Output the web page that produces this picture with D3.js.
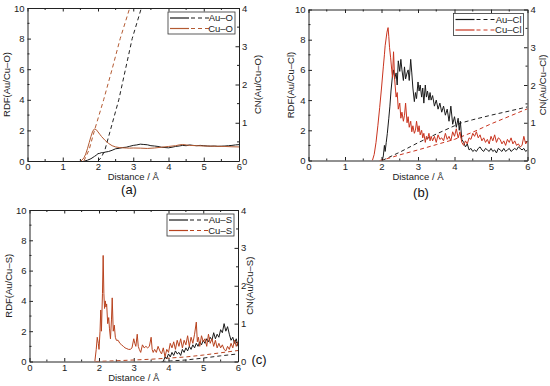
<!DOCTYPE html>
<html>
<head>
<meta charset="utf-8">
<script src="https://cdn.jsdelivr.net/npm/d3@7"></script>
<style>
    body { margin: 0; background: #fff; }
    svg { display: block; font-family: "Liberation Sans", Arial, sans-serif; }
    .tick text { font-size: 9.5px; fill: #222; font-family: "Liberation Sans", Arial, sans-serif; }
    .tick line, .domain { stroke: #222; }
</style>
</head>
<body>
<svg id="chart" width="550" height="386"></svg>
<script>
// ---- data: [distance (Å), value] ----
const xTicks = [0, 1, 2, 3, 4, 5, 6];
const rdfTicks = [0, 2, 4, 6, 8, 10];
const cnTicks = [0, 1, 2, 3, 4];

// (a) Au/Cu - O
const rdfAuO = [[1.62,0],[1.7,0.05],[1.8,0.15],[1.9,0.3],[1.95,0.38],[2.0,0.48],[2.05,0.5],[2.1,0.55],[2.15,0.53],[2.2,0.58],[2.3,0.62],[2.4,0.7],[2.5,0.8],[2.6,0.83],[2.7,0.88],[2.8,0.9],[2.9,0.96],[3.0,1.02],[3.1,1.05],[3.2,1.1],[3.3,1.08],[3.4,1.06],[3.5,1.0],[3.6,0.98],[3.7,0.95],[3.8,0.9],[3.9,0.88],[4.0,0.86],[4.1,0.9],[4.2,0.95],[4.3,0.98],[4.4,1.02],[4.5,1.0],[4.6,1.05],[4.7,1.02],[4.8,1.0],[4.9,1.02],[5.0,1.0],[5.1,0.98],[5.2,0.97],[5.3,0.98],[5.4,0.96],[5.5,0.97],[5.6,0.98],[5.7,1.0],[5.8,1.02],[5.9,1.05],[6.0,1.07]];
const rdfCuO = [[1.52,0],[1.6,0.2],[1.65,0.45],[1.7,0.8],[1.75,1.2],[1.8,1.6],[1.85,1.95],[1.9,2.1],[1.95,2.05],[2.0,1.9],[2.05,1.75],[2.1,1.6],[2.2,1.35],[2.3,1.15],[2.4,1.0],[2.5,0.92],[2.6,0.88],[2.7,0.86],[2.8,0.85],[2.9,0.84],[3.0,0.85],[3.2,0.84],[3.4,0.82],[3.6,0.85],[3.8,0.9],[4.0,0.95],[4.2,1.0],[4.3,1.05],[4.4,1.08],[4.5,1.05],[4.6,1.02],[4.8,1.0],[5.0,0.98],[5.2,0.97],[5.4,0.96],[5.6,0.95],[5.8,0.93],[6.0,0.92]];
const cnAuO = [[2.0,0],[2.1,0.1],[2.2,0.3],[2.35,0.8],[2.59,1.6],[2.78,2.4],[2.97,3.2],[3.23,4.0],[3.3,4.3]];
const cnCuO = [[1.6,0],[1.75,0.3],[1.9,0.8],[2.16,1.6],[2.4,2.4],[2.63,3.2],[2.9,4.0],[3.0,4.3]];

// (b) Au/Cu - Cl
const rdfAuCl = [[2.02,0],[2.05,0.3],[2.08,1.0],[2.1,0.6],[2.13,1.2],[2.16,1.8],[2.2,2.8],[2.23,3.6],[2.26,4.6],[2.3,5.6],[2.33,6.0],[2.36,5.4],[2.4,5.8],[2.43,5.0],[2.46,6.6],[2.5,5.9],[2.53,6.7],[2.56,6.0],[2.6,5.3],[2.63,6.2],[2.66,5.4],[2.7,5.8],[2.73,6.0],[2.76,5.3],[2.8,6.7],[2.83,5.8],[2.86,4.8],[2.9,3.9],[2.93,4.5],[2.96,4.1],[3.0,5.2],[3.03,4.6],[3.06,5.0],[3.1,4.2],[3.13,4.8],[3.16,3.8],[3.2,5.0],[3.23,4.2],[3.26,4.6],[3.3,4.0],[3.33,4.5],[3.36,4.0],[3.4,4.3],[3.45,3.6],[3.5,4.0],[3.55,3.4],[3.6,3.8],[3.65,3.2],[3.7,3.6],[3.75,3.0],[3.8,3.4],[3.85,2.6],[3.9,3.6],[3.95,2.4],[4.0,2.9],[4.05,2.2],[4.1,2.8],[4.13,2.0],[4.16,2.6],[4.2,1.4],[4.25,1.2],[4.3,0.9],[4.35,1.1],[4.4,0.7],[4.45,0.8],[4.5,0.6],[4.55,0.7],[4.6,0.6],[4.65,0.8],[4.7,0.9],[4.75,0.7],[4.8,0.6],[4.85,0.8],[4.9,0.7],[4.95,0.6],[5.0,0.8],[5.05,0.6],[5.1,0.7],[5.15,0.5],[5.2,0.8],[5.25,0.7],[5.3,0.6],[5.35,0.8],[5.4,0.6],[5.45,0.7],[5.5,0.8],[5.55,0.6],[5.6,0.7],[5.65,0.8],[5.7,0.7],[5.75,0.9],[5.8,0.8],[5.85,0.7],[5.9,0.8],[5.95,0.6],[6.0,0.7]];
const rdfCuCl = [[1.75,0],[1.8,0.4],[1.85,1.2],[1.9,2.3],[1.95,3.5],[2.0,4.8],[2.05,6.2],[2.08,7.0],[2.1,7.6],[2.15,8.5],[2.18,8.8],[2.2,8.2],[2.22,7.5],[2.25,6.8],[2.28,6.0],[2.3,5.5],[2.33,7.2],[2.36,5.4],[2.4,4.2],[2.43,4.5],[2.46,3.4],[2.5,3.8],[2.53,2.8],[2.56,3.2],[2.6,2.6],[2.63,3.0],[2.66,3.8],[2.7,2.5],[2.73,2.9],[2.76,2.2],[2.8,2.6],[2.83,1.9],[2.86,2.3],[2.9,1.8],[2.93,2.0],[2.96,2.6],[3.0,1.9],[3.03,2.3],[3.06,1.7],[3.1,2.0],[3.13,1.5],[3.16,1.8],[3.2,1.2],[3.23,1.6],[3.26,1.4],[3.3,1.8],[3.33,1.3],[3.36,1.6],[3.4,1.3],[3.45,1.6],[3.5,1.2],[3.55,1.7],[3.6,1.4],[3.65,1.5],[3.7,1.3],[3.75,1.8],[3.8,1.4],[3.85,1.6],[3.9,1.3],[3.95,1.9],[4.0,1.6],[4.05,2.1],[4.1,1.5],[4.15,1.9],[4.2,1.2],[4.25,1.0],[4.3,1.3],[4.35,1.1],[4.4,1.5],[4.45,1.4],[4.5,1.8],[4.55,1.6],[4.6,1.9],[4.65,1.5],[4.7,1.7],[4.75,1.3],[4.8,1.5],[4.85,1.2],[4.9,1.4],[4.95,1.1],[5.0,1.6],[5.05,1.3],[5.1,1.7],[5.15,1.2],[5.2,1.5],[5.25,1.4],[5.3,1.1],[5.35,1.3],[5.4,1.0],[5.45,1.4],[5.5,1.2],[5.55,1.5],[5.6,1.1],[5.65,1.3],[5.7,1.0],[5.75,1.1],[5.8,0.9],[5.85,1.0],[5.9,1.6],[5.95,1.1],[6.0,1.3]];
const cnAuCl = [[2.02,0],[2.5,0.22],[3.0,0.47],[3.5,0.7],[4.0,0.92],[4.2,1.0],[4.5,1.08],[5.0,1.2],[5.5,1.31],[6.0,1.42]];
const cnCuCl = [[1.95,0],[2.2,0.06],[2.5,0.15],[3.0,0.28],[3.5,0.42],[4.0,0.56],[4.5,0.75],[5.0,0.97],[5.5,1.17],[6.0,1.37]];

// (c) Au/Cu - S
const rdfAuS = [[3.85,0],[3.9,0.3],[3.95,0.2],[4.0,0.5],[4.05,0.3],[4.1,0.6],[4.15,0.4],[4.2,0.7],[4.25,0.5],[4.3,0.6],[4.35,0.4],[4.4,0.8],[4.45,0.6],[4.5,0.9],[4.55,0.7],[4.6,1.0],[4.65,0.8],[4.7,1.1],[4.75,0.9],[4.8,1.2],[4.85,1.0],[4.9,1.3],[4.95,1.1],[5.0,1.4],[5.05,1.2],[5.1,1.5],[5.15,1.3],[5.2,1.6],[5.25,1.4],[5.3,1.9],[5.35,1.5],[5.4,1.8],[5.45,1.6],[5.5,2.1],[5.55,1.9],[5.6,2.5],[5.65,2.0],[5.7,2.3],[5.75,1.8],[5.8,1.4],[5.85,1.6],[5.9,1.2],[5.95,1.5],[6.0,1.0]];
const rdfCuS = [[1.88,0],[1.92,0.8],[1.95,1.6],[1.98,1.2],[2.0,0.8],[2.03,2.0],[2.05,3.4],[2.07,2.0],[2.1,4.5],[2.12,7.0],[2.14,4.5],[2.16,3.5],[2.18,4.0],[2.2,3.6],[2.22,3.8],[2.25,2.5],[2.28,2.9],[2.3,2.2],[2.33,1.5],[2.36,2.8],[2.38,4.2],[2.41,2.0],[2.44,2.4],[2.47,1.6],[2.5,1.4],[2.55,1.4],[2.6,1.2],[2.65,1.1],[2.7,1.0],[2.75,0.9],[2.8,0.85],[2.85,0.8],[2.9,0.8],[2.95,0.9],[3.0,1.5],[3.03,1.2],[3.06,1.0],[3.1,1.8],[3.13,1.0],[3.16,0.8],[3.2,0.6],[3.25,1.1],[3.3,0.9],[3.35,1.0],[3.4,0.9],[3.45,1.0],[3.5,1.6],[3.53,0.8],[3.56,0.6],[3.6,0.8],[3.65,0.6],[3.7,1.0],[3.75,0.7],[3.8,0.5],[3.85,0.9],[3.9,0.3],[3.95,0.8],[4.0,0.6],[4.05,1.2],[4.1,0.9],[4.15,1.3],[4.2,0.8],[4.25,1.4],[4.3,1.0],[4.35,1.5],[4.4,0.9],[4.45,1.4],[4.5,1.1],[4.55,1.7],[4.6,1.0],[4.65,1.6],[4.7,1.2],[4.75,1.8],[4.8,2.6],[4.83,1.3],[4.86,1.6],[4.9,1.0],[4.95,1.7],[5.0,1.3],[5.05,1.5],[5.1,1.0],[5.15,1.8],[5.2,1.2],[5.25,1.5],[5.3,1.0],[5.35,1.4],[5.4,0.9],[5.45,1.2],[5.5,0.9],[5.55,1.1],[5.6,0.8],[5.65,0.7],[5.7,1.0],[5.75,0.8],[5.8,1.2],[5.85,0.9],[5.9,1.4],[5.95,1.0],[6.0,1.3]];
const cnAuS = [[3.8,0],[4.0,0.01],[4.5,0.04],[5.0,0.09],[5.5,0.15],[6.0,0.2]];
const cnCuS = [[1.9,0],[2.5,0.02],[3.0,0.04],[3.5,0.06],[4.0,0.09],[4.5,0.12],[5.0,0.17],[5.5,0.23],[6.0,0.29]];

const panels = [
    { id: "a", box: [27.5, 8, 239, 161], el: "O", cu: "#b35a32", lOff: 18, rOff: 21.5,
      au: [rdfAuO, cnAuO], cuData: [rdfCuO, cnCuO], tag: [129, 194] },
    { id: "b", box: [308.5, 9.5, 527.5, 160.5], el: "Cl", cu: "#c9341f", lOff: 15, rOff: 18,
      au: [rdfAuCl, cnAuCl], cuData: [rdfCuCl, cnCuCl], tag: [421, 197] },
    { id: "c", box: [29.5, 210, 238, 361.5], el: "S", cu: "#b8431f", lOff: 18, rOff: 14.5,
      au: [rdfAuS, cnAuS], cuData: [rdfCuS, cnCuS], tag: [259, 364] }
];

const svg = d3.select("#chart");
const fmt = d3.format("d");

panels.forEach(p => {
    const [x0, y0, x1, y1] = p.box;
    const x = d3.scaleLinear().domain([0, 6]).range([x0, x1]);
    const y = d3.scaleLinear().domain([0, 10]).range([y1, y0]);
    const yCn = d3.scaleLinear().domain([0, 4]).range([y1, y0]);
    const g = svg.append("g");

    g.append("clipPath").attr("id", "clip-" + p.id)
        .append("rect").attr("x", x0).attr("y", y0).attr("width", x1 - x0).attr("height", y1 - y0);

    // minor ticks
    const minor = g.append("g").attr("stroke", "#222").attr("stroke-width", 1);
    d3.range(0.5, 6, 1).forEach(v => {
        minor.append("line").attr("x1", x(v)).attr("x2", x(v)).attr("y1", y1).attr("y2", y1 - 2);
        minor.append("line").attr("x1", x(v)).attr("x2", x(v)).attr("y1", y0).attr("y2", y0 + 2);
    });
    d3.range(1, 10, 2).forEach(v => {
        minor.append("line").attr("x1", x0).attr("x2", x0 + 2).attr("y1", y(v)).attr("y2", y(v));
    });
    d3.range(0.5, 4, 1).forEach(v => {
        minor.append("line").attr("x1", x1).attr("x2", x1 - 2).attr("y1", yCn(v)).attr("y2", yCn(v));
    });

    g.append("g").attr("transform", `translate(0,${y1})`)
        .call(d3.axisBottom(x).tickValues(xTicks).tickFormat(fmt).tickSizeInner(-3.5).tickSizeOuter(0).tickPadding(2.5));
    g.append("g").attr("transform", `translate(0,${y0})`)
        .call(d3.axisTop(x).tickValues(xTicks).tickFormat("").tickSizeInner(-3.5).tickSizeOuter(0));
    g.append("g").attr("transform", `translate(${x0},0)`)
        .call(d3.axisLeft(y).tickValues(rdfTicks).tickFormat(fmt).tickSizeInner(-3.5).tickSizeOuter(0).tickPadding(3));
    g.append("g").attr("transform", `translate(${x1},0)`)
        .call(d3.axisRight(yCn).tickValues(cnTicks).tickFormat(fmt).tickSizeInner(-3.5).tickSizeOuter(0).tickPadding(3));

    const lineR = d3.line().x(d => x(d[0])).y(d => y(d[1]));
    const lineC = d3.line().x(d => x(d[0])).y(d => yCn(d[1]));
    const plot = g.append("g").attr("clip-path", `url(#clip-${p.id})`).attr("fill", "none").attr("stroke-width", 1);

    plot.append("path").datum(p.au[1]).attr("d", lineC).attr("stroke", "#222").attr("stroke-dasharray", "4,3");
    plot.append("path").datum(p.cuData[1]).attr("d", lineC).attr("stroke", p.cu).attr("stroke-dasharray", "4,3");
    plot.append("path").datum(p.au[0]).attr("d", lineR).attr("stroke", "#1a1a1a");
    plot.append("path").datum(p.cuData[0]).attr("d", lineR).attr("stroke", p.cu);

    // axis titles
    const midY = (y0 + y1) / 2;
    g.append("text").attr("transform", `translate(${x0 - p.lOff},${midY}) rotate(-90)`)
        .attr("text-anchor", "middle").attr("font-size", 9.5).attr("fill", "#222")
        .text(`RDF(Au/Cu–${p.el})`);
    g.append("text").attr("transform", `translate(${x1 + p.rOff},${midY}) rotate(-90)`)
        .attr("text-anchor", "middle").attr("font-size", 9.5).attr("fill", "#222")
        .text(`CN(Au/Cu–${p.el})`);
    g.append("text").attr("x", (x0 + x1) / 2).attr("y", y1 + 19)
        .attr("text-anchor", "middle").attr("font-size", 9.5).attr("fill", "#222")
        .text("Distance / Å");
    g.append("text").attr("x", p.tag[0]).attr("y", p.tag[1])
        .attr("text-anchor", "middle").attr("font-size", 13).attr("fill", "#111")
        .text(`(${p.id})`);

    // legend
    const lw = p.el === "Cl" ? 70 : 67;
    const lx = x1 - 4 - lw, ly = y0 + 4;
    const leg = g.append("g");
    leg.append("rect").attr("x", lx).attr("y", ly).attr("width", lw).attr("height", 22)
        .attr("fill", "#fff").attr("stroke", "#333").attr("stroke-width", 0.8);
    [["Au", "#1a1a1a"], ["Cu", p.cu]].forEach((s, i) => {
        const ry = ly + 6 + i * 10.5;
        leg.append("line").attr("x1", lx + 2).attr("x2", lx + 21).attr("y1", ry).attr("y2", ry)
            .attr("stroke", s[1]).attr("stroke-width", 1.2);
        leg.append("line").attr("x1", lx + 23).attr("x2", lx + 42).attr("y1", ry).attr("y2", ry)
            .attr("stroke", s[1]).attr("stroke-width", 1.2).attr("stroke-dasharray", "4,3");
        leg.append("text").attr("x", lx + lw - 2).attr("y", ry + 3.3).attr("text-anchor", "end")
            .attr("font-size", 9.5).attr("fill", "#222").text(`${s[0]}–${p.el}`);
    });
});
</script>
</body>
</html>
